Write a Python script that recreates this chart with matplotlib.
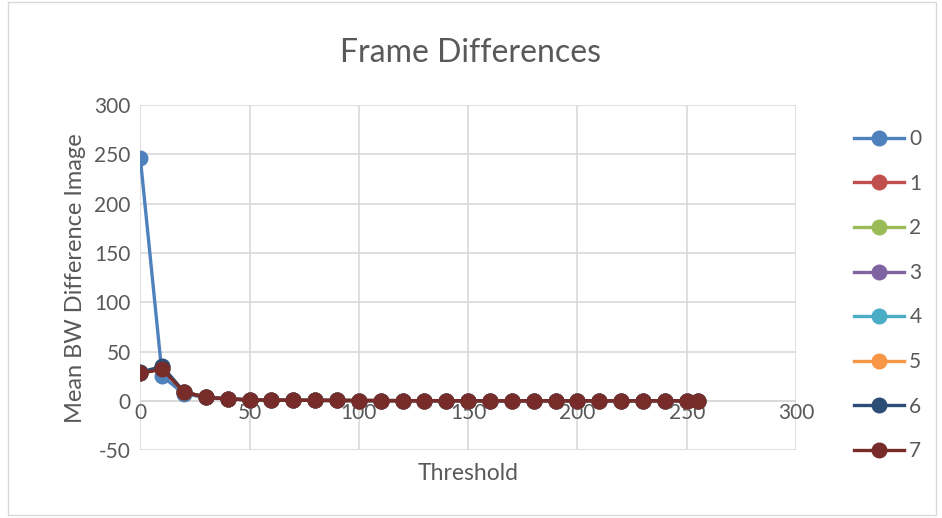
import matplotlib
matplotlib.use("Agg")
import matplotlib.pyplot as plt
from matplotlib.patches import Rectangle

# ─── Data ────────────────────────────────────────────────
thresholds = [0, 10, 20, 30, 40, 50, 60, 70, 80, 90, 100, 110, 120, 130,
              140, 150, 160, 170, 180, 190, 200, 210, 220, 230, 240, 250, 255]

tail = [1.0, 0.8, 0.6, 0.5, 0.4, 0.3, 0.3, 0.2, 0.2, 0.2, 0.1, 0.1, 0.1,
        0.1, 0.1, 0.1, 0.1, 0.1, 0.1, 0.1, 0.1, 0.1]

s0 = [246, 25, 7, 3.5, 2] + tail
s1 = [28, 33, 9, 3.5, 2] + tail
s2 = [28, 33, 9, 3.5, 2] + tail
s3 = [28, 34, 9, 3.5, 2] + tail
s4 = [28, 33, 9, 3.5, 2] + tail
s5 = [29, 33, 9, 3.5, 2] + tail
s6 = [29, 35, 9, 3.5, 2] + tail
s7 = [28, 32, 9, 3.5, 2] + tail

series = [s0, s1, s2, s3, s4, s5, s6, s7]
names = ["0", "1", "2", "3", "4", "5", "6", "7"]
colors = ["#4F81BD", "#C0504D", "#9BBB59", "#8064A2",
          "#4BACC6", "#F79646", "#2C4D75", "#772C2A"]

# ─── Style ───────────────────────────────────────────────
plt.rcParams["font.family"] = ["Lato", "DejaVu Sans"]
plt.rcParams["axes.unicode_minus"] = False
text_col = "#595959"
grid_col = "#D9D9D9"

fig = plt.figure(figsize=(9.42, 5.18), dpi=100)
ax = fig.add_axes([0.149, 0.131, 0.696, 0.666])

for ys, name, c in zip(series, names, colors):
    ax.plot(thresholds, ys, color=c, lw=2.4, marker="o", ms=10.5,
            markeredgecolor=c, label=name, zorder=3)

ax.set_xlim(0, 300)
ax.set_ylim(-50, 300)
ax.set_xticks(range(0, 301, 50))
ax.set_yticks(range(-50, 301, 50))
ax.grid(True, color=grid_col, lw=1.2)
ax.set_axisbelow(True)
ax.axhline(0, color=grid_col, lw=1.2, zorder=1)
for sp in ax.spines.values():
    sp.set_visible(False)
ax.tick_params(length=0, labelsize=15, colors=text_col, pad=7)
# x tick labels sit just under the zero line
ax.tick_params(axis="x", pad=-34)
ax.set_xlabel("Threshold", fontsize=16.5, color=text_col, labelpad=9)
ax.set_ylabel("Mean BW Difference Image", fontsize=17, color=text_col, labelpad=6)
fig.suptitle("Frame Differences", fontsize=23, color=text_col, y=0.927)

leg = ax.legend(loc="upper left", bbox_to_anchor=(1.06, 0.985), frameon=False,
                fontsize=15, labelcolor=text_col, handlelength=2.4,
                labelspacing=1.18, handletextpad=0.25)

# outer chart border
fig.patches.append(Rectangle((0.009, 0.006), 0.985, 0.99, transform=fig.transFigure,
                             fill=False, edgecolor=grid_col, lw=1))

fig.savefig("out.png", dpi=100)
